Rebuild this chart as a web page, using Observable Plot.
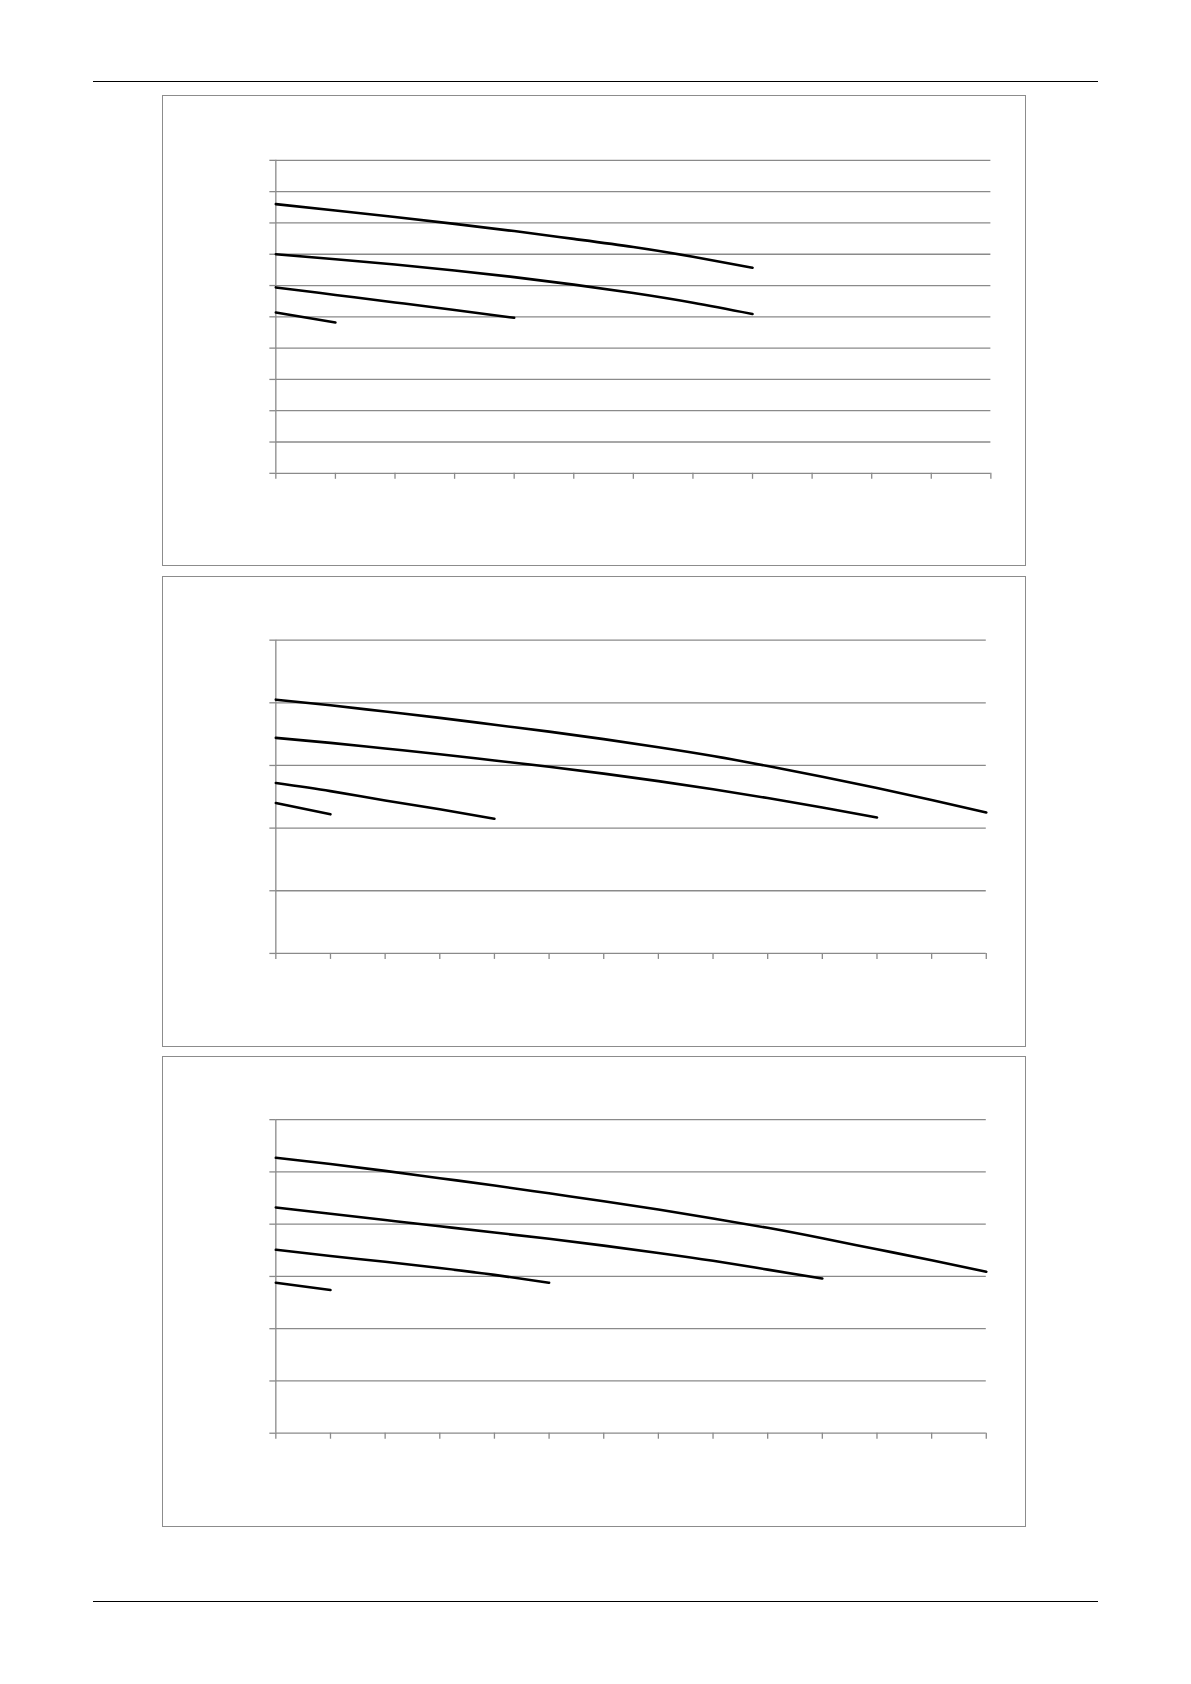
<!DOCTYPE html>
<html>
<head>
<meta charset="utf-8">
<script src="https://cdn.jsdelivr.net/npm/d3@7"></script>
<script src="https://cdn.jsdelivr.net/npm/@observablehq/plot@0.6"></script>
<style>
  html, body { margin: 0; padding: 0; background: #fff; }
  #page { position: relative; width: 1191px; height: 1684px; background: #fff; font-family: "Liberation Sans", Arial, sans-serif; }
  .rule { position: absolute; height: 0; border-top: 1.4px solid #000; }
  .box { position: absolute; box-sizing: border-box; border: 1.6px solid #8c8c8c; background: #fff; }
  .box svg { position: absolute; left: -1.6px; top: -1.6px; overflow: visible; }
</style>
</head>
<body>
<div id="page"></div>
<script>
// ---- Data ----
// Chart 1: x ticks 0..12, y gridlines 0..10
const xTicks1 = d3.range(0, 13);
const yTicks1 = d3.range(0, 11);
const c1SeriesA = [8.6, 8.4, 8.19, 7.97, 7.74, 7.49, 7.23, 6.92, 6.57];
const c1SeriesB = [7.0, 6.84, 6.67, 6.48, 6.27, 6.03, 5.76, 5.45, 5.09];
const c1SeriesC = [5.94, 5.70, 5.46, 5.22, 4.97];
const c1SeriesD = [5.14, 4.82];

// Chart 2: x ticks 0..13, y gridlines 0..5
const xTicks2 = d3.range(0, 14);
const yTicks2 = d3.range(0, 6);
const c2SeriesA = [4.05, 3.96, 3.86, 3.76, 3.65, 3.54, 3.42, 3.29, 3.15, 2.99, 2.82, 2.64, 2.45, 2.25];
const c2SeriesB = [3.44, 3.36, 3.27, 3.18, 3.08, 2.98, 2.87, 2.75, 2.62, 2.48, 2.33, 2.17];
const c2SeriesC = [2.72, 2.59, 2.44, 2.30, 2.15];
const c2SeriesD = [2.40, 2.22];

// Chart 3: x ticks 0..13, y gridlines 0..6
const xTicks3 = d3.range(0, 14);
const yTicks3 = d3.range(0, 7);
const c3SeriesA = [5.27, 5.15, 5.02, 4.88, 4.74, 4.59, 4.44, 4.28, 4.11, 3.93, 3.73, 3.52, 3.31, 3.09];
const c3SeriesB = [4.32, 4.20, 4.08, 3.96, 3.84, 3.72, 3.59, 3.45, 3.30, 3.13, 2.96];
const c3SeriesC = [3.51, 3.39, 3.28, 3.16, 3.03, 2.88];
const c3SeriesD = [2.88, 2.74];

// ---- Build ----
function rows(seriesList) {
  const out = [];
  seriesList.forEach((vals, s) => vals.forEach((v, i) => out.push({series: s, x: i, y: v})));
  return out;
}

const page = document.getElementById("page");

function addRule(left, top, width) {
  const d = document.createElement("div");
  d.className = "rule";
  d.style.left = left + "px";
  d.style.top = top + "px";
  d.style.width = width + "px";
  page.appendChild(d);
}

const GRID = "#8a8a8a";

function addChart(top, cfg) {
  const W = 864.3, H = 471;
  const box = document.createElement("div");
  box.className = "box";
  box.style.left = "161.7px";
  box.style.top = top + "px";
  box.style.width = W + "px";
  box.style.height = H + "px";
  const data = rows(cfg.series);
  const chart = Plot.plot({
    width: W,
    height: H,
    marginLeft: cfg.ml,
    marginRight: cfg.mr,
    marginTop: cfg.mt,
    marginBottom: cfg.mb,
    style: {background: "transparent", overflow: "visible"},
    x: {domain: [0, cfg.xTicks[cfg.xTicks.length - 1]], axis: null, label: null},
    y: {domain: [0, cfg.yTicks[cfg.yTicks.length - 1]], axis: null, label: null},
    marks: [
      Plot.ruleY(cfg.yTicks, {stroke: GRID, strokeWidth: 1.3}),
      Plot.ruleX([0], {stroke: GRID, strokeWidth: 1.3}),
      Plot.axisY({ticks: cfg.yTicks, tickSize: 6, tickFormat: () => "", label: null, stroke: GRID, strokeWidth: 1.3}),
      Plot.axisX({ticks: cfg.xTicks, tickSize: 6, tickFormat: () => "", label: null, stroke: GRID, strokeWidth: 1.3}),
      Plot.line(data, {x: "x", y: "y", z: "series", stroke: "#000", strokeWidth: 2.6, curve: "natural"})
    ]
  });
  box.appendChild(chart);
  page.appendChild(box);
}

addRule(92.7, 80.6, 1005);
addRule(92.7, 1601.3, 1005);

addChart(95.3, {
  xTicks: xTicks1, yTicks: yTicks1,
  series: [c1SeriesA, c1SeriesB, c1SeriesC, c1SeriesD],
  ml: 114.6, mr: 33, mt: 65, mb: 92.3
});
addChart(575.5, {
  xTicks: xTicks2, yTicks: yTicks2,
  series: [c2SeriesA, c2SeriesB, c2SeriesC, c2SeriesD],
  ml: 114.6, mr: 37.6, mt: 64.8, mb: 92.2
});
addChart(1056, {
  xTicks: xTicks3, yTicks: yTicks3,
  series: [c3SeriesA, c3SeriesB, c3SeriesC, c3SeriesD],
  ml: 114.6, mr: 37.6, mt: 64.3, mb: 92.4
});
</script>
</body>
</html>
